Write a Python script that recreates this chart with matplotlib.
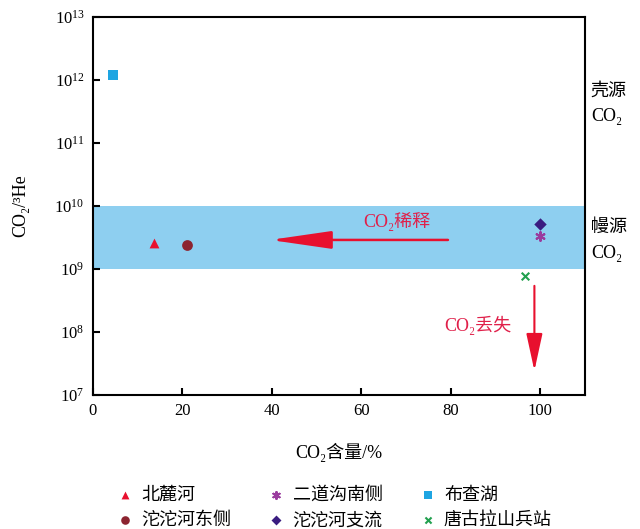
import matplotlib
matplotlib.use("Agg")
import matplotlib.pyplot as plt
from matplotlib.ticker import LogLocator, LogFormatterMathtext, NullLocator

plt.rcParams['font.family'] = ['Liberation Serif', 'DejaVu Serif', 'Noto Sans CJK SC']
plt.rcParams['mathtext.fontset'] = 'stix'

# 样品点 (CO2 含量 %, CO2/3He)
sites = ['北麓河', '沱沱河东侧', '二道沟南侧', '沱沱河支流', '布查湖', '唐古拉山兵站']
co2_pct = [13.6, 21.0, 100.0, 100.0, 4.5, 96.7]
co2_he = [2.6e9, 2.4e9, 3.3e9, 5.2e9, 1.2e12, 7.8e8]
markers = ['^', 'o', (6, 2, 0), 'D', 's', 'x']
colors = ['#e8102e', '#8c2430', '#9a3c9e', '#3a1c80', '#1ea5e2', '#21a04e']
sizes = [50, 60, 40, 40, 55, 30]

mantle_band = (1e9, 1e10)

fig = plt.figure(figsize=(6.4, 5.29), dpi=100)
ax = fig.add_axes([0.145, 0.253, 0.769, 0.715])

ax.axhspan(mantle_band[0], mantle_band[1], color='#8ecff0', lw=0, zorder=0)

for name, x, y, m, c, s in zip(sites, co2_pct, co2_he, markers, colors, sizes):
    lw = 1.5 if m in ('x', (6, 2, 0)) else 0
    ax.scatter([x], [y], marker=m, color=c, s=s, linewidths=lw, label=name, zorder=3)

ax.set_yscale('log')
ax.set_xlim(0, 110)
ax.set_ylim(1e7, 1e13)
ax.set_xticks([0, 20, 40, 60, 80, 100])
ax.yaxis.set_major_locator(LogLocator(base=10, numticks=10))
ax.yaxis.set_major_formatter(LogFormatterMathtext())
ax.yaxis.set_minor_locator(NullLocator())
ax.tick_params(direction='in', length=5, width=1.5, labelsize=12, pad=6)
for sp in ax.spines.values():
    sp.set_linewidth(1.5)

ax.set_xlabel('CO₂含量/%', fontsize=13, labelpad=17)
ax.set_ylabel('CO₂/³He', fontsize=13, labelpad=18)

# 稀释 箭头
ax.annotate('', xy=(39, 2.9e9), xytext=(80, 2.9e9),
            arrowprops=dict(arrowstyle='-|>,head_length=3.8,head_width=0.55',
                            color='#e8102e', lw=1.8))
ax.text(68, 5.6e9, 'CO₂稀释', color='#e0204a', fontsize=13, ha='center', va='center')

# 丢失 箭头
ax.annotate('', xy=(98.7, 2.2e7), xytext=(98.7, 6e8),
            arrowprops=dict(arrowstyle='-|>,head_length=2.3,head_width=0.5',
                            color='#e8102e', lw=1.5))
ax.text(86, 1.3e8, 'CO₂丢失', color='#e0204a', fontsize=13, ha='center', va='center')

ax.text(1.012, 0.77, '壳源\nCO₂', transform=ax.transAxes, fontsize=13,
        ha='left', va='center', linespacing=1.7)
ax.text(1.012, 0.41, '幔源\nCO₂', transform=ax.transAxes, fontsize=13,
        ha='left', va='center', linespacing=1.7)

ax.legend(loc='upper center', bbox_to_anchor=(0.49, -0.2), ncol=3, frameon=False,
          fontsize=13, handletextpad=0.4, columnspacing=2.0, labelspacing=0.45,
          handlelength=1.0, markerscale=0.8)

fig.savefig('out.png', dpi=100)
